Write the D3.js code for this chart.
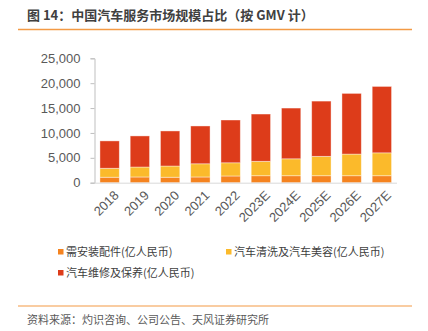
<!DOCTYPE html>
<html>
<head>
<meta charset="utf-8">
<script src="https://cdn.jsdelivr.net/npm/d3@7"></script>
<style>
  body { margin: 0; background: #fff; }
  svg { display: block; font-family: "Noto Sans CJK SC", "Liberation Sans", sans-serif; }
</style>
</head>
<body>
<div id="chart"></div>
<script>
// --------------- Data ---------------
const years = ["2018", "2019", "2020", "2021", "2022", "2023E", "2024E", "2025E", "2026E", "2027E"];
const parts = [1100, 1150, 1100, 1150, 1350, 1400, 1400, 1400, 1400, 1400];
const washing = [1800, 2000, 2250, 2650, 2650, 2900, 3400, 3900, 4350, 4600];
const repair = [5500, 6250, 7050, 7600, 8600, 9500, 10200, 11100, 12200, 13350];
const seriesNames = ["需安装配件(亿人民币)", "汽车清洗及汽车美容(亿人民币)", "汽车维修及保养(亿人民币)"];
const yTicks = [0, 5000, 10000, 15000, 20000, 25000];

const COLORS = ["#F5831F", "#FBBA2B", "#DD3C1A"];
const W = 428, H = 331;

const svg = d3.select("#chart").append("svg").attr("width", W).attr("height", H);

// --------------- Title ---------------
svg.append("text")
  .attr("x", 27).attr("y", 20)
  .attr("font-size", 13).attr("font-weight", "bold").attr("fill", "#404040")
  .text("图 14：中国汽车服务市场规模占比（按 GMV 计）");

svg.append("line")
  .attr("x1", 18).attr("x2", 412).attr("y1", 29.5).attr("y2", 29.5)
  .attr("stroke", "#F39A45").attr("stroke-width", 1.5);

// --------------- Chart ---------------
const x = d3.scaleBand().domain(years).range([94.5, 397]).paddingInner(0.36).paddingOuter(0.18);
const y = d3.scaleLinear().domain([0, 25000]).range([182.7, 58.3]);

const rows = years.map((yr, i) => ({ year: yr, a: parts[i], b: washing[i], c: repair[i] }));
const stack = d3.stack().keys(["a", "b", "c"])(rows);

const g = svg.append("g");
stack.forEach((layer, li) => {
  g.append("g")
    .selectAll("rect")
    .data(layer)
    .enter()
    .append("rect")
    .attr("x", (d) => x(d.data.year))
    .attr("width", x.bandwidth())
    .attr("y", (d) => y(d[1]))
    .attr("height", (d) => y(d[0]) - y(d[1]))
    .attr("fill", COLORS[li])
    .attr("stroke", "#fff")
    .attr("stroke-opacity", 0.5)
    .attr("stroke-width", 0.8);
});

// y axis
const yAxis = svg.append("g")
  .attr("transform", "translate(94.5,0)")
  .call(d3.axisLeft(y).tickValues(yTicks).tickSize(4).tickPadding(10).tickFormat(d3.format(",")));
yAxis.select(".domain").attr("stroke", "#BFBFBF");
yAxis.selectAll(".tick line").attr("stroke", "#BFBFBF");
yAxis.selectAll("text").attr("font-size", 13).attr("fill", "#595959")
  .attr("font-family", "Liberation Sans, Arial, sans-serif");

// x axis
const xAxis = svg.append("g")
  .attr("transform", "translate(0,182.7)")
  .call(d3.axisBottom(x).tickSize(0).tickPadding(6));
xAxis.select(".domain").attr("stroke", "#D9D9D9").attr("d", "M94.5,0.5H397");
xAxis.selectAll("text")
  .attr("font-size", 13).attr("fill", "#595959")
  .attr("font-family", "Liberation Sans, Arial, sans-serif")
  .attr("text-anchor", "end")
  .attr("dy", "0.35em")
  .attr("transform", "translate(2.5,6) rotate(-45)");

// --------------- Legend ---------------
const legendPos = [[58, 252], [226, 252], [58, 273]];
const legend = svg.append("g");
seriesNames.forEach((name, i) => {
  const [lx, ly] = legendPos[i];
  legend.append("rect")
    .attr("x", lx).attr("y", ly - 3).attr("width", 5.5).attr("height", 5.5)
    .attr("fill", COLORS[i]);
  legend.append("text")
    .attr("x", lx + 8).attr("y", ly + 4)
    .attr("font-size", 11).attr("fill", "#404040")
    .text(name);
});

// --------------- Source ---------------
svg.append("line")
  .attr("x1", 18).attr("x2", 412).attr("y1", 306).attr("y2", 306)
  .attr("stroke", "#F39A45").attr("stroke-width", 1.2);

svg.append("text")
  .attr("x", 27).attr("y", 324)
  .attr("font-size", 11).attr("fill", "#595959")
  .text("资料来源：灼识咨询、公司公告、天风证券研究所");
</script>
</body>
</html>
